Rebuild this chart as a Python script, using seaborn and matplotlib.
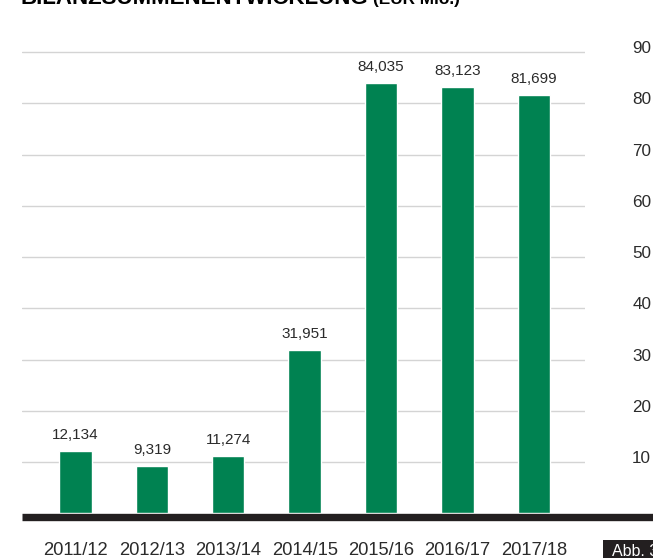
import matplotlib
matplotlib.use("Agg")
import matplotlib.pyplot as plt
import matplotlib.transforms as mtransforms
from matplotlib.patches import Rectangle
import seaborn as sns
import pandas as pd

years = ["2011/12", "2012/13", "2013/14", "2014/15", "2015/16", "2016/17", "2017/18"]
values = [12.134, 9.319, 11.274, 31.951, 84.035, 83.123, 81.699]
y_ticks = [10, 20, 30, 40, 50, 60, 70, 80, 90]
title_main = "BILANZSUMMENENTWICKLUNG"
title_unit = "(EUR Mio.)"
fig_tag = "Abb. 3"

GREEN = "#008251"
DARK = "#231f20"
TEXT = "#2b2b2b"

sns.set_theme(style="white")
plt.rcParams["font.family"] = ["Liberation Sans", "DejaVu Sans"]

W, H = 653, 558
fig = plt.figure(figsize=(W / 100, H / 100), dpi=100)
ax_left, ax_right, ax_bottom = 22, 585, 513.3
ax = fig.add_axes([ax_left / W, (H - ax_bottom) / H, (ax_right - ax_left) / W, ax_bottom / H])

df = pd.DataFrame({"year": years, "value": values})
sns.barplot(data=df, x="year", y="value", color=GREEN, saturation=1, width=0.425, ax=ax, zorder=3)

ax.set_xlim(-0.70, 6.67)
ax.set_ylim(0, 100.2)
ax.set_yticks(y_ticks)
ax.set_yticklabels([str(t) for t in y_ticks])
ax.yaxis.tick_right()
ax.grid(axis="y", color="#d4d4d4", linewidth=1.0, zorder=0)
ax.grid(axis="x", visible=False)
for s in ax.spines.values():
    s.set_visible(False)
ax.set_xlabel("")
ax.set_ylabel("")
ax.tick_params(axis="y", length=0, pad=34, labelsize=12.3, labelcolor=TEXT)
ax.tick_params(axis="x", length=0, pad=20.5, labelsize=13.2, labelcolor=TEXT)

# shift y tick labels slightly up
off = mtransforms.ScaledTranslation(0, 5 / 100, fig.dpi_scale_trans)
for lbl in ax.get_yticklabels():
    lbl.set_transform(lbl.get_transform() + off)

# value labels
labels = [f"{v:.3f}".replace(".", ",") for v in values]
ax.bar_label(ax.containers[0], labels=labels, padding=6.5, fontsize=11, color=TEXT)

# thick black baseline extending to the right edge
base = ax.axhline(0, xmin=0, xmax=(W - ax_left) / (ax_right - ax_left) + 0.01,
                  color=DARK, linewidth=5.3, clip_on=False, zorder=5, solid_capstyle="butt")
base.set_transform(base.get_transform() + mtransforms.ScaledTranslation(0, -3.7 / 100, fig.dpi_scale_trans))

# cut-off title at the top
fig.text(21 / W, 1 - 4.2 / H, title_main, fontsize=16, fontweight="bold", color="black",
         va="baseline", ha="left")
fig.text(373 / W, 1 - 4.2 / H, title_unit, fontsize=12.4, fontweight="bold", color="black",
         va="baseline", ha="left")

# figure tag box
fig.add_artist(Rectangle((602.7 / W, 0), (W - 602.7) / W, (H - 540.3) / H,
                         transform=fig.transFigure, facecolor=DARK, edgecolor="none"))
fig.text(612 / W, 1 - 556.3 / H, fig_tag, fontsize=11.5, color="white", va="baseline", ha="left")

fig.savefig("out.png", dpi=100)
